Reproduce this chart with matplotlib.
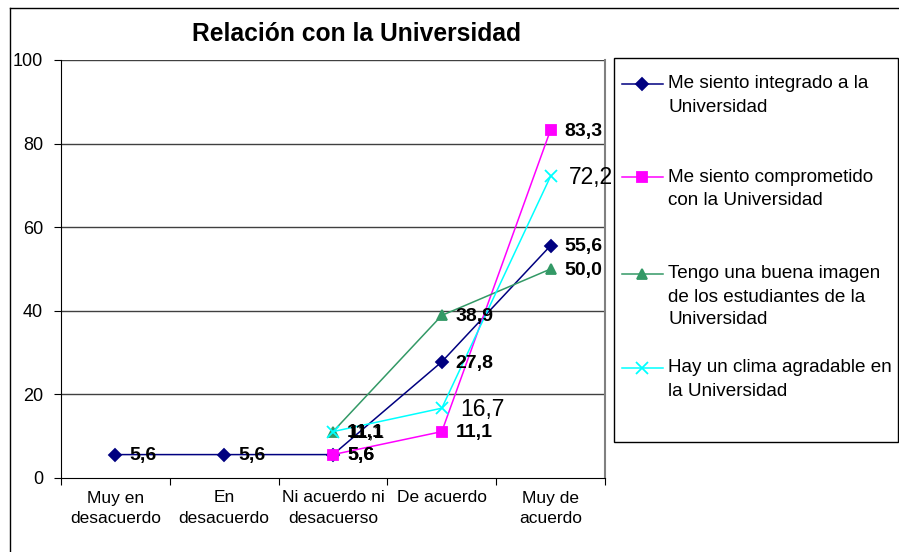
import numpy as np
import matplotlib
matplotlib.use("Agg")
from matplotlib import pyplot as plt
from matplotlib.lines import Line2D
from matplotlib.patches import Rectangle

plt.rcParams['font.family'] = ['Liberation Sans', 'DejaVu Sans']

# data
categories = ["Muy en\ndesacuerdo", "En\ndesacuerdo", "Ni acuerdo ni\ndesacuerso",
              "De acuerdo", "Muy de\nacuerdo"]
integrado = [5.6, 5.6, 5.6, 27.8, 55.6]
comprometido = [np.nan, np.nan, 5.6, 11.1, 83.3]
buena_imagen = [np.nan, np.nan, 11.1, 38.9, 50.0]
clima = [np.nan, np.nan, 11.1, 16.7, 72.2]
series_labels = ["Me siento integrado a la\nUniversidad",
                 "Me siento comprometido\ncon la Universidad",
                 "Tengo una buena imagen\nde los estudiantes de la\nUniversidad",
                 "Hay un clima agradable en\nla Universidad"]

W, H = 899, 552

# pixel -> figure coords
def fx(px):
    return px / W

def fy(py):
    return 1 - py / H

fig = plt.figure(figsize=(W / 100, H / 100), dpi=100)
fig.patch.set_facecolor('white')

# outer chart border (cut at right/bottom)
fig.add_artist(Line2D([fx(10), fx(10)], [fy(8), 0], color='black', lw=1))
fig.add_artist(Line2D([fx(10), 1], [fy(8), fy(8)], color='black', lw=1))

ax = fig.add_axes([fx(61), fy(478), (605 - 61) / W, (478 - 60) / H])
x = np.arange(len(categories))

styles = [
    dict(color='#000080', marker='D', ms=6, bold=True),
    dict(color='#FF00FF', marker='s', ms=6.5, bold=True),
    dict(color='#339966', marker='^', ms=7.5, bold=True),
    dict(color='#00FFFF', marker='x', ms=8, bold=False),
]
all_series = [integrado, comprometido, buena_imagen, clima]

for vals, st in zip(all_series, styles):
    vals = np.array(vals, dtype=float)
    ax.plot(x, vals, color=st['color'], lw=1.1, marker=st['marker'], ms=st['ms'],
            mec=st['color'], mfc=st['color'], mew=1.3, zorder=3, clip_on=False)
    for xi, v in zip(x, vals):
        if np.isnan(v):
            continue
        txt = f"{v:.1f}".replace('.', ',')
        if st['bold']:
            ax.annotate(txt, (xi, v), xytext=(10, -1), textcoords='offset points',
                        ha='left', va='center', fontsize=14, fontweight='bold',
                        zorder=4, annotation_clip=False)
        else:
            # the first cyan label is drawn smaller in the original
            fs = 14 if xi == 2 else 16.5
            ax.annotate(txt, (xi, v), xytext=(11 if xi == 2 else 13, -1),
                        textcoords='offset points', ha='left', va='center',
                        fontsize=fs, zorder=4, annotation_clip=False)

ax.set_xlim(-0.5, len(categories) - 0.5)
ax.set_ylim(0, 100)
ax.set_yticks(np.arange(0, 101, 20))
ax.tick_params(axis='y', labelsize=13, length=5, direction='out', pad=8)
ax.set_xticks(np.arange(-0.5, len(categories), 1.0))
ax.set_xticklabels([])
ax.tick_params(axis='x', which='major', length=5, direction='out')
ax.set_xticks(x, minor=True)
ax.set_xticklabels(categories, minor=True, fontsize=12.5, linespacing=1.45)
ax.tick_params(axis='x', which='minor', length=0, pad=9)

for yv in range(20, 101, 20):
    ax.axhline(yv, color='#404040', lw=1, zorder=1)
ax.spines['left'].set_color('black')
ax.spines['bottom'].set_color('black')
ax.spines['right'].set_color('#808080')
ax.spines['right'].set_linewidth(1.5)
ax.spines['top'].set_visible(False)

fig.text(fx(357), fy(34), "Relación con la Universidad", ha='center', va='center',
         fontsize=17.7, fontweight='bold')

# legend box
fig.add_artist(Rectangle((fx(614), fy(442)), (898 - 614) / W, (442 - 58) / H,
                         transform=fig.transFigure, fill=False, ec='black', lw=1))
entry_y = [84, 177, 274, 368]
for lab, st, ey in zip(series_labels, styles, entry_y):
    fig.add_artist(Line2D([fx(622), fx(663)], [fy(ey), fy(ey)], color=st['color'], lw=1.1))
    fig.add_artist(Line2D([fx(642)], [fy(ey)], color=st['color'], marker=st['marker'],
                          ms=st['ms'], mfc=st['color'], mec=st['color'], mew=1.3))
    for i, line in enumerate(lab.split('\n')):
        fig.text(fx(668), fy(ey + 23 * i), line, ha='left', va='center', fontsize=13.6)

fig.savefig('out.png', dpi=100)
